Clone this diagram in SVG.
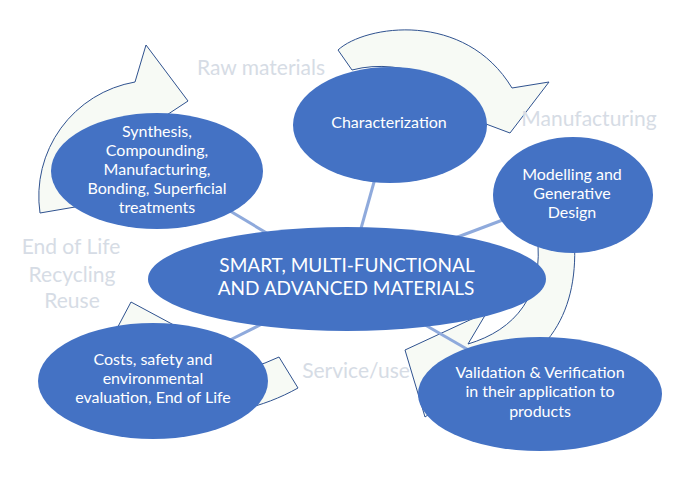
<svg xmlns="http://www.w3.org/2000/svg" width="680" height="492" viewBox="0 0 680 492">
<style>
.arrow{fill:#F7FAF5;stroke:#2F528F;stroke-width:1;stroke-linejoin:miter}
.conn{stroke:#8FAADC;stroke-width:3;fill:none}
.node{fill:#4472C4}
.nt{font-family:Lato,"Liberation Sans",sans-serif;fill:#FFFFFF;text-anchor:middle;font-size:16px}
.ct{font-family:Lato,"Liberation Sans",sans-serif;fill:#FFFFFF;text-anchor:middle;font-size:19px}
.lbl{font-family:Lato,"Liberation Sans",sans-serif;fill:#D6DCE5;text-anchor:middle;font-size:21px}
</style>
<rect width="680" height="492" fill="#FFFFFF"/>
<g id="cycle-arrows">
<path id="arrow-raw" class="arrow" d="M40,213 A116,116 0 0 1 135,82 L146,45 L188,101 L150,126 L141,117 A81,81 0 0 0 75,207 Z"/>
<path id="arrow-manufacturing" class="arrow" d="M338,50 C365,25 465,10 512,88 L549,82 L510,133 L478,121 C462,85 405,56 352,70 Z"/>
<path id="arrow-service" class="arrow" d="M537,235 L574,235 C580,310 550,365 470,385 L425,417 L405,350 L487,312 L468,344 C515,330 545,295 537,235 Z"/>
<path id="arrow-endoflife" class="arrow" d="M279,357 L298,388 C280,398 262,405 240,410 C180,420 130,390 135,350 L113,336 L131,302 L185,331 L165,345 C170,370 230,375 265,363 Z"/>
</g>
<g id="labels">
<text class="lbl" x="261" y="75">Raw materials</text>
<text class="lbl" x="589" y="126">Manufacturing</text>
<text class="lbl" x="71" y="254">End of Life</text>
<text class="lbl" x="72" y="281.5">Recycling</text>
<text class="lbl" x="72" y="308">Reuse</text>
<text class="lbl" x="356" y="378">Service/use</text>
</g>
<g id="connectors">
<line class="conn" x1="225" y1="208" x2="270" y2="235"/>
<line class="conn" x1="376" y1="175" x2="360" y2="232"/>
<line class="conn" x1="508" y1="218" x2="455" y2="238"/>
<line class="conn" x1="226" y1="342" x2="266" y2="322"/>
<line class="conn" x1="420" y1="322" x2="472" y2="352"/>
</g>
<g id="node-synthesis">
<ellipse class="node" cx="157" cy="171" rx="106" ry="58"/>
<text class="nt" x="157" y="136.5">Synthesis,</text>
<text class="nt" x="157" y="155.7">Compounding,</text>
<text class="nt" x="157" y="175">Manufacturing,</text>
<text class="nt" x="157" y="194.2">Bonding, Superficial</text>
<text class="nt" x="157" y="213.3">treatments</text>
</g>
<g id="node-characterization">
<ellipse class="node" cx="390" cy="125" rx="97" ry="58"/>
<text class="nt" x="389" y="128.3">Characterization</text>
</g>
<g id="node-modelling">
<ellipse class="node" cx="573" cy="195" rx="80" ry="58"/>
<text class="nt" x="572" y="180">Modelling and</text>
<text class="nt" x="572" y="199">Generative</text>
<text class="nt" x="572" y="217.5">Design</text>
</g>
<g id="node-central">
<ellipse class="node" cx="347" cy="279" rx="199" ry="52"/>
<text class="ct" x="347" y="272.3">SMART, MULTI-FUNCTIONAL</text>
<text class="ct" x="346" y="295">AND ADVANCED MATERIALS</text>
</g>
<g id="node-costs">
<ellipse class="node" cx="153" cy="381" rx="115" ry="58"/>
<text class="nt" x="153" y="365">Costs, safety and</text>
<text class="nt" x="153" y="384">environmental</text>
<text class="nt" x="153" y="403.3">evaluation, End of Life</text>
</g>
<g id="node-validation">
<ellipse class="node" cx="540" cy="394" rx="122" ry="57"/>
<text class="nt" x="540" y="378.3">Validation &amp; Verification</text>
<text class="nt" x="540" y="397.3">in their application to</text>
<text class="nt" x="540" y="416.7">products</text>
</g>
</svg>
